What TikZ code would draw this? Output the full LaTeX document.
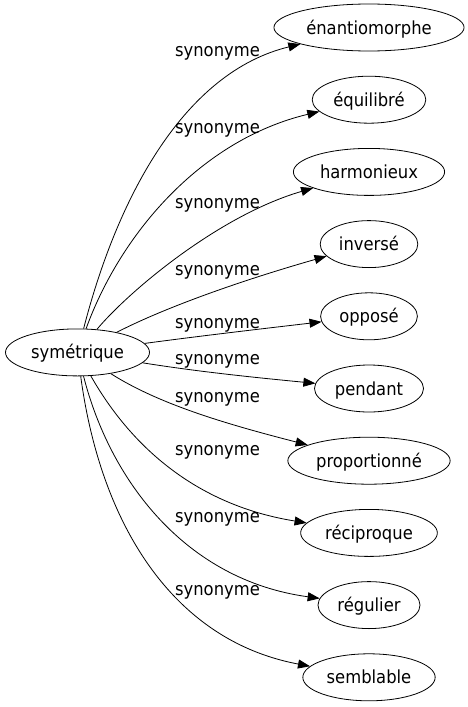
\documentclass[tikz,border=0pt]{standalone}
\usepackage{fontspec}
\setmainfont{DejaVu Sans}[FakeStretch=0.91]
\usetikzlibrary{shapes.geometric,arrows.meta}
\begin{document}
\begin{tikzpicture}[x=1pt,y=-1pt,
  word/.style={ellipse,draw,line width=0.8pt,inner xsep=4.5pt,inner ysep=0pt,
    minimum height=47pt,text height=17pt,text depth=4pt,
    font=\fontsize{18pt}{20pt}\selectfont},
  lab/.style={anchor=base,inner sep=0pt,font=\fontsize{18pt}{20pt}\selectfont},
  syn/.style={line width=0.8pt,-{Triangle[length=12pt,width=9pt]}}]
\useasboundingbox (0,0) rectangle (467,707);
\node[word] (s) at (77.5,352.4) {symétrique};
\node[word] (t1) at (369,27.5) {énantiomorphe};
\node[word] (t2) at (369,99.7) {équilibré};
\node[word] (t3) at (369,171.9) {harmonieux};
\node[word] (t4) at (369,244.1) {inversé};
\node[word] (t5) at (369,316.3) {opposé};
\node[word] (t6) at (369,388.5) {pendant};
\node[word] (t7) at (369,460.7) {proportionné};
\node[word] (t8) at (369,532.9) {réciproque};
\node[word] (t9) at (369,605.1) {régulier};
\node[word] (t10) at (369,677.3) {semblable};
\draw[syn] (s) .. controls (118,195) and (185,72) .. (t1);
\draw[syn] (s) .. controls (120,235) and (200,140) .. (t2);
\draw[syn] (s) .. controls (130,290) and (220,215) .. (t3);
\draw[syn] (s) .. controls (170,305) and (250,278) .. (t4);
\draw[syn] (s) .. controls (200,336) and (260,329) .. (t5);
\draw[syn] (s) .. controls (200,372) and (260,378) .. (t6);
\draw[syn] (s) .. controls (160,405) and (230,425) .. (t7);
\draw[syn] (s) .. controls (130,445) and (195,505) .. (t8);
\draw[syn] (s) .. controls (110,480) and (185,580) .. (t9);
\draw[syn] (s) .. controls (100,520) and (170,640) .. (t10);
\node[lab] (l1) at (217.5,56) {synonyme};
\node[lab] (l2) at (217.5,133) {synonyme};
\node[lab] (l3) at (217.5,208) {synonyme};
\node[lab] (l4) at (217.5,275) {synonyme};
\node[lab] (l5) at (217.5,328) {synonyme};
\node[lab] (l6) at (217.5,364) {synonyme};
\node[lab] (l7) at (217.5,402) {synonyme};
\node[lab] (l8) at (217.5,455) {synonyme};
\node[lab] (l9) at (217.5,522) {synonyme};
\node[lab] (l10) at (217.5,595) {synonyme};
\end{tikzpicture}
\end{document}
